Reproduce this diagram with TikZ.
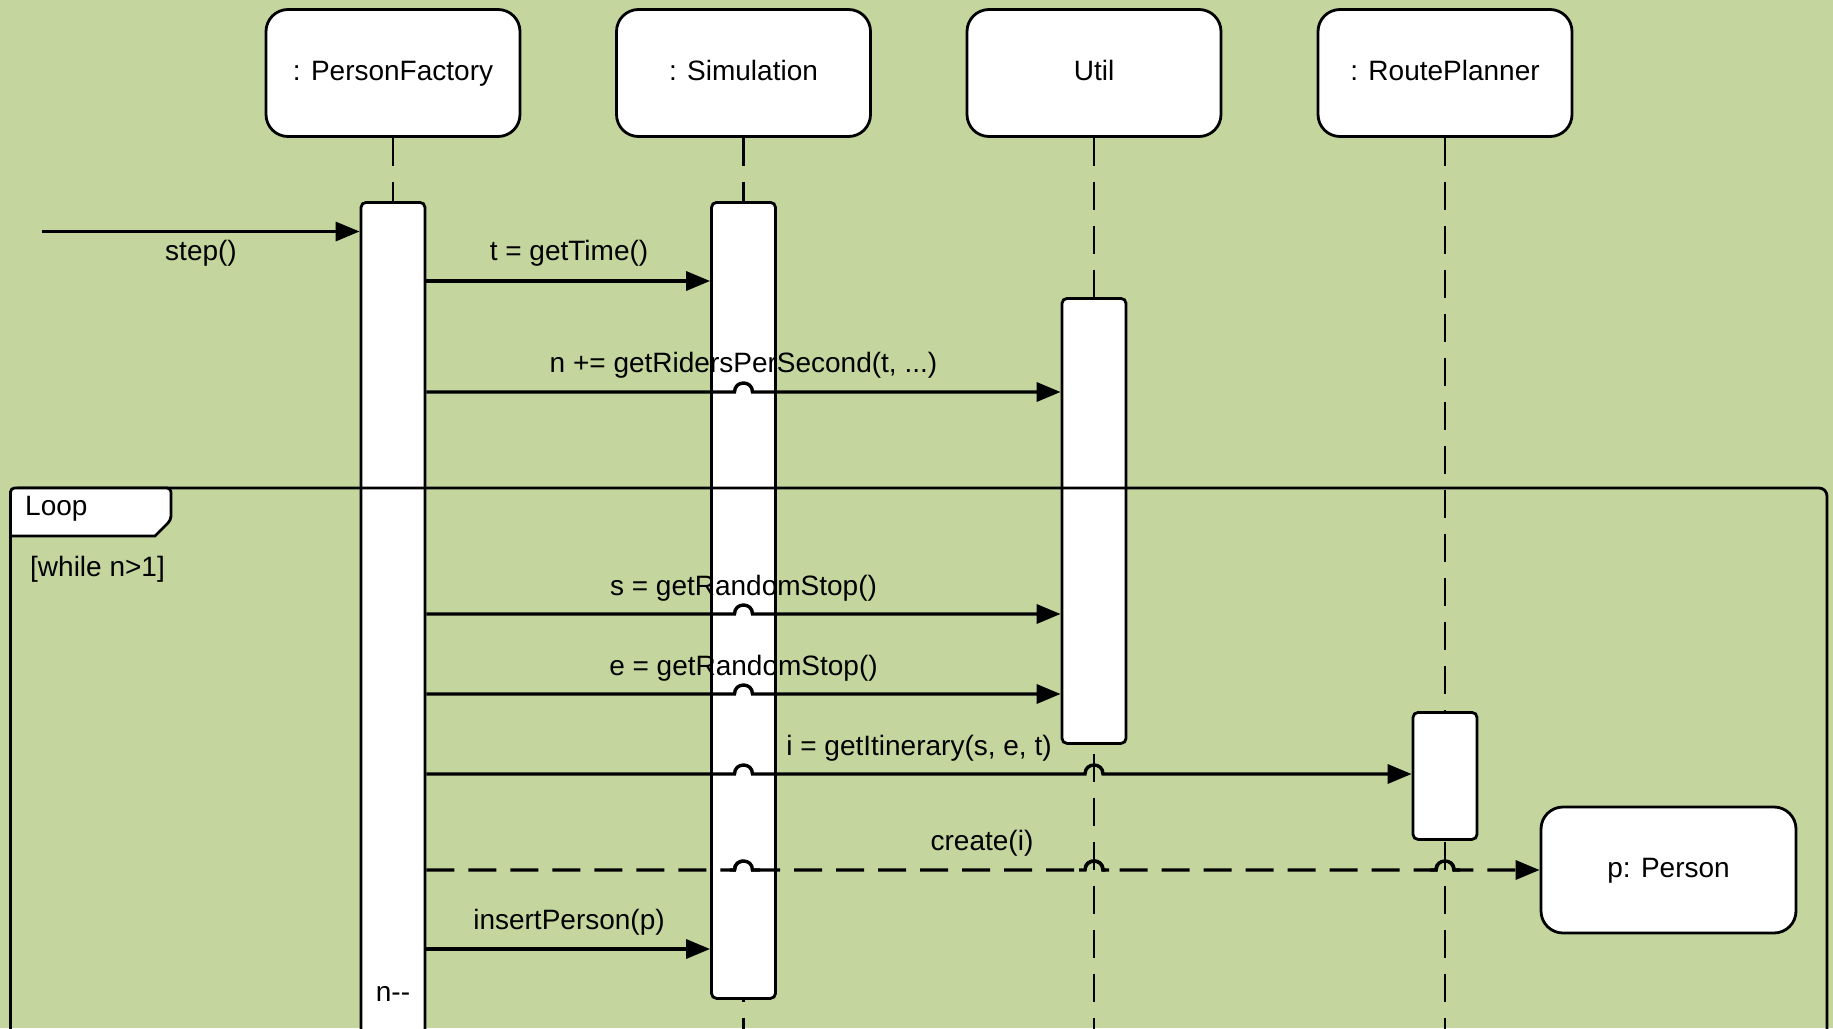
\documentclass[tikz,border=0pt]{standalone}
\usepackage{fontspec}
\setmainfont{Liberation Sans}
\usetikzlibrary{arrows.meta}
\definecolor{bg}{RGB}{196,214,157}
\begin{document}
\begin{tikzpicture}[x=1pt,y=-1pt,
  every node/.style={font=\fontsize{28}{34}\selectfont},
  head/.style={draw, fill=white, line width=2.8pt, rounded corners=22pt, minimum width=254pt, minimum height=127pt, inner sep=0pt, text height=21pt, text depth=6pt},
  actbar/.style={draw, fill=white, line width=2.8pt, rounded corners=5pt, minimum width=64pt, inner sep=0pt, anchor=north},
  lifeline/.style={line width=2.4pt, dash pattern=on 28pt off 16pt},
  msg/.style={line width=3.4pt, -{Triangle[length=24pt,width=19pt]}},
  createmsg/.style={msg, dash pattern=on 28pt off 14pt},
  bump/.style={line width=3.4pt},
  lbl/.style={inner sep=0pt, anchor=center},
  frameline/.style={line width=2.8pt}
]
\clip (0,0) rectangle (1833,1028);
\fill[bg] (0,0) rectangle (1833,1028);

% headers
\node[head] (pf) at (393,73) {: PersonFactory};
\node[head] (sim) at (743.5,73) {: Simulation};
\node[head] (util) at (1094,73) {Util};
\node[head] (rp) at (1445,73) {: RoutePlanner};

% lifelines
\coordinate (pfend) at (393,1060);
\coordinate (simend) at (743.5,1060);
\coordinate (utilend) at (1094,1060);
\coordinate (rpend) at (1445,1060);
\draw[lifeline] (pf.south) -- (pfend);
\draw[lifeline] (sim.south) -- (simend);
\draw[lifeline] (util.south) -- (utilend);
\draw[lifeline] (rp.south) -- (rpend);

% activation bars
\node[actbar, minimum height=870pt] (pfbar) at (393,201) {};
\node[actbar, minimum height=796pt] (simbar) at (743.5,201) {};
\node[actbar, minimum height=445pt] (utilbar) at (1094,297) {};
\node[actbar, minimum height=127pt] (rpbar) at (1445,711) {};

% person object
\node[head, minimum width=255pt, minimum height=126pt] (person) at (1668.5,870) {p: Person};

% loop frame
\draw[frameline, rounded corners=8pt] (10.5,1060) -- (10.5,488) -- (1827,488) -- (1827,1060);
\draw[frameline, fill=white, rounded corners=4pt] (10.5,536) -- (10.5,488) -- (171,488) -- (171,520) [sharp corners] -- (155,536) -- cycle;
\node[anchor=west, inner sep=0pt] (looplbl) at (25,509) {Loop};
\node[anchor=west, inner sep=0pt] (guard) at (30,569) {[while n>1]};

% messages
\coordinate (stepstart) at (42,231.5);
\draw[msg] (stepstart) -- (pfbar.west |- 0,231.5);
\node[lbl] at (201,253) {step()};

\draw[msg] (pfbar.east |- 0,281) -- (simbar.west |- 0,281);
\node[lbl] at (569,253) {t = getTime()};

\draw[msg] (pfbar.east |- 0,392) -- (734.5,392) .. controls (734.5,380) and (752.5,380) .. (752.5,392) -- (utilbar.west |- 0,392);
\node[lbl] at (743.5,365) {n += getRidersPerSecond(t, ...)};

\draw[msg] (pfbar.east |- 0,614) -- (734.5,614) .. controls (734.5,602) and (752.5,602) .. (752.5,614) -- (utilbar.west |- 0,614);
\node[lbl] at (743.5,588) {s = getRandomStop()};

\draw[msg] (pfbar.east |- 0,694) -- (734.5,694) .. controls (734.5,682) and (752.5,682) .. (752.5,694) -- (utilbar.west |- 0,694);
\node[lbl] at (743.5,668) {e = getRandomStop()};

\draw[msg] (pfbar.east |- 0,774) -- (734.5,774) .. controls (734.5,762) and (752.5,762) .. (752.5,774) -- (1085,774) .. controls (1085,762) and (1103,762) .. (1103,774) -- (rpbar.west |- 0,774);
\node[lbl] at (919,748) {i = getItinerary(s, e, t)};

\draw[createmsg] (pfbar.east |- 0,870) -- (734.5,870) .. controls (734.5,858) and (752.5,858) .. (752.5,870) -- (1085,870) .. controls (1085,858) and (1103,858) .. (1103,870) -- (1436,870) .. controls (1436,858) and (1454,858) .. (1454,870) -- (person.west |- 0,870);
\draw[bump] (730,870) -- (734.5,870) .. controls (734.5,858) and (752.5,858) .. (752.5,870) -- (760,870);
\draw[bump] (1079,870) -- (1085,870) .. controls (1085,858) and (1103,858) .. (1103,870) -- (1109,870);
\draw[bump] (1430,870) -- (1436,870) .. controls (1436,858) and (1454,858) .. (1454,870) -- (1460,870);
\node[lbl] at (982,843) {create(i)};

\draw[msg] (pfbar.east |- 0,949) -- (simbar.west |- 0,949);
\node[lbl] at (569,922) {insertPerson(p)};

\node[lbl] at (393,994) {n-{}-};
\end{tikzpicture}
\end{document}
